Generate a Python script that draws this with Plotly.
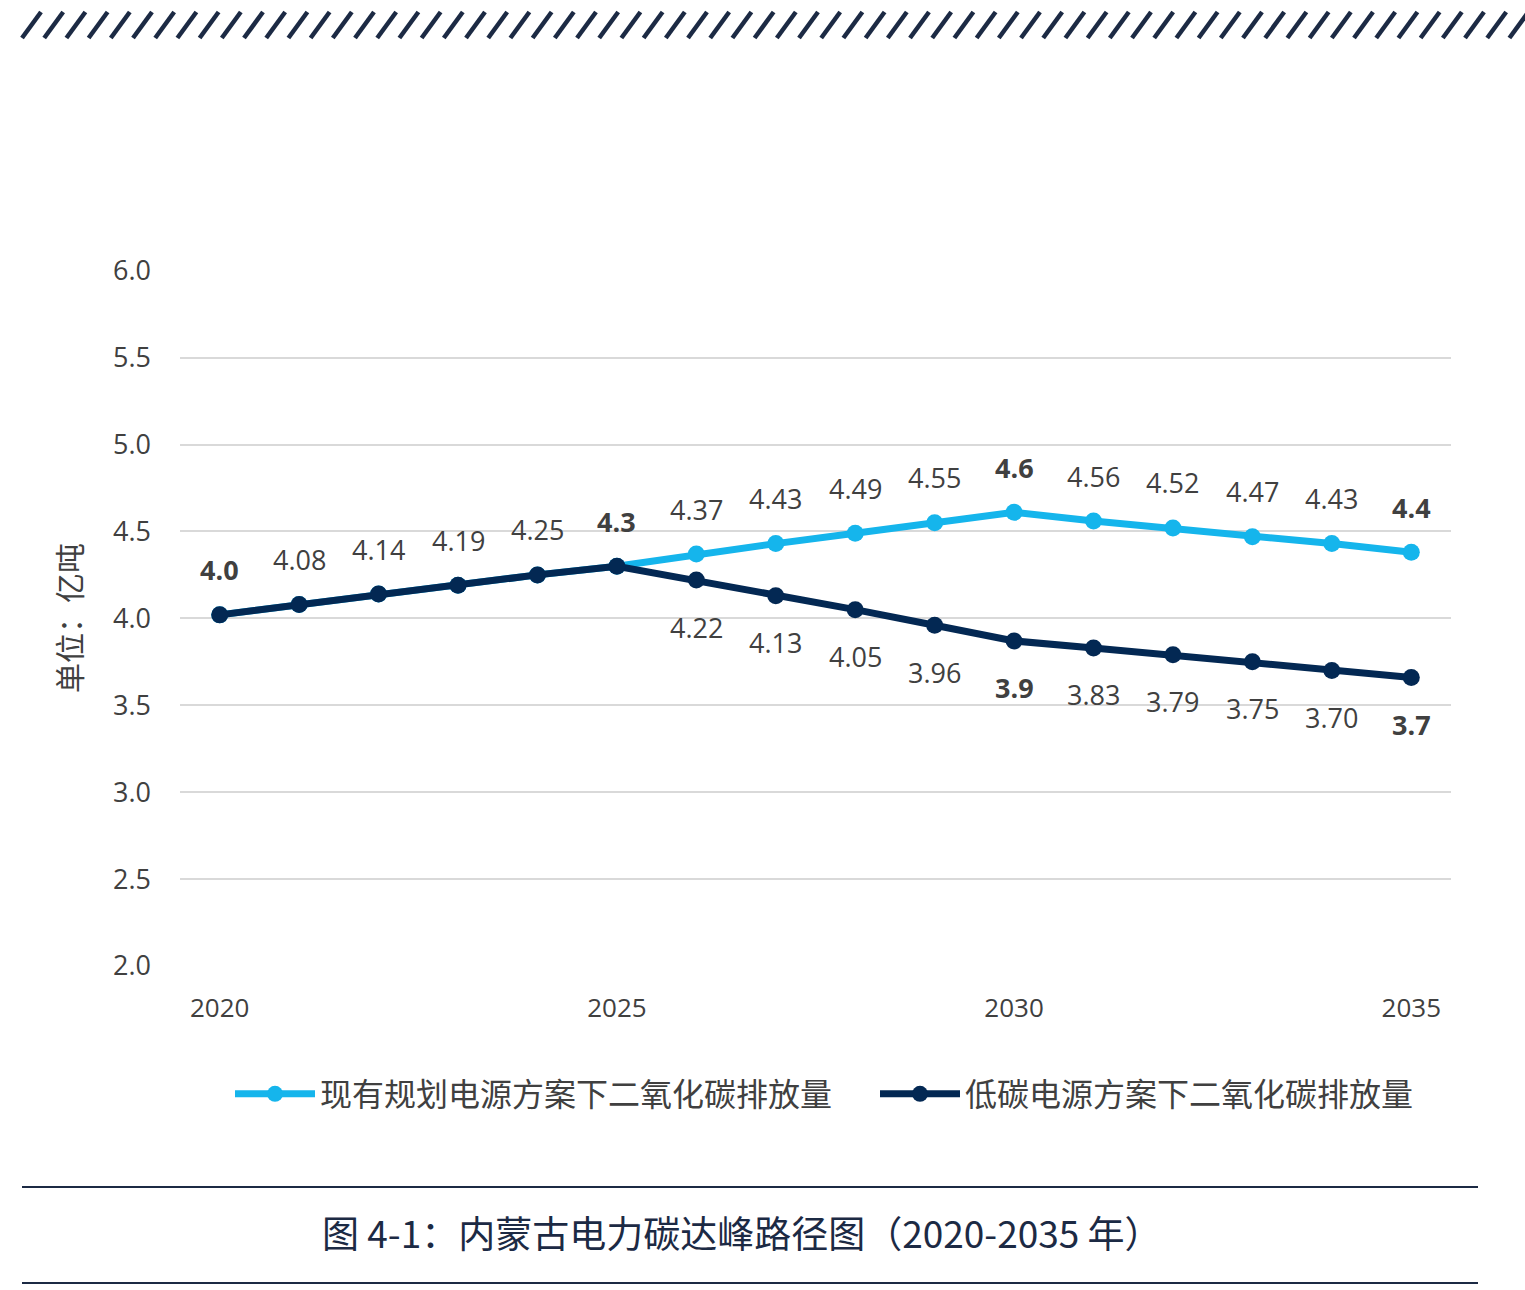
import plotly.graph_objects as go

years = list(range(2020, 2036))
plan_values = [4.02, 4.08, 4.14, 4.19, 4.25, 4.30, 4.37, 4.43, 4.49, 4.55, 4.61, 4.56, 4.52, 4.47, 4.43, 4.38]
low_values = [4.02, 4.08, 4.14, 4.19, 4.25, 4.30, 4.22, 4.13, 4.05, 3.96, 3.87, 3.83, 3.79, 3.75, 3.70, 3.66]
plan_labels = [None, None, None, None, None, None, "4.37", "4.43", "4.49", "4.55", "<b>4.6</b>", "4.56", "4.52", "4.47", "4.43", "<b>4.4</b>"]
low_labels = ["<b>4.0</b>", "4.08", "4.14", "4.19", "4.25", "<b>4.3</b>", "4.22", "4.13", "4.05", "3.96", "<b>3.9</b>", "3.83", "3.79", "3.75", "3.70", "<b>3.7</b>"]
y_ticks = [2.0, 2.5, 3.0, 3.5, 4.0, 4.5, 5.0, 5.5, 6.0]
x_ticks = [2020, 2025, 2030, 2035]
plan_name = "现有规划电源方案下二氧化碳排放量"
low_name = "低碳电源方案下二氧化碳排放量"
y_title = "单位：亿吨"
caption = "图 4-1：内蒙古电力碳达峰路径图（2020-2035 年）"

CYAN = "#15b5ec"
NAVY = "#032853"
TXT = "#404040"
DARK = "#1c2a44"
FONT = "Open Sans, Noto Sans CJK SC, sans-serif"
CJK = "Noto Sans CJK SC, sans-serif"

W, H = 1525, 1290
L, R, T, B = 180, 1451, 270, 966


def px(xp):
    return (xp - L) / (R - L)


def py(yp):
    return (B - yp) / (B - T)


fig = go.Figure()
fig.add_trace(go.Scatter(x=years, y=plan_values, mode="lines+markers", name=plan_name,
                         line=dict(color=CYAN, width=7), marker=dict(size=17, color=CYAN)))
fig.add_trace(go.Scatter(x=years, y=low_values, mode="lines+markers", name=low_name,
                         line=dict(color=NAVY, width=7), marker=dict(size=17, color=NAVY)))

ann = []
for i, yr in enumerate(years):
    if plan_labels[i]:
        ann.append(dict(x=yr, y=plan_values[i], text=plan_labels[i], showarrow=False, yshift=45,
                        font=dict(size=27, color=TXT, family=FONT)))
    below = i > 5
    ann.append(dict(x=yr, y=low_values[i], text=low_labels[i], showarrow=False,
                    yshift=-47 if below else 45, font=dict(size=27, color=TXT, family=FONT)))

ann.append(dict(xref="paper", yref="paper", x=px(68), y=py(618), xanchor="center", yanchor="middle",
                text=y_title, textangle=-90,
                showarrow=False, font=dict(size=30, color=TXT, family=CJK)))
ann.append(dict(xref="paper", yref="paper", x=px(742), y=py(1232), xanchor="center", yanchor="middle",
                text=caption, showarrow=False, font=dict(size=37, color=DARK, family=CJK)))

shapes = []
for yline in (1187, 1283):
    shapes.append(dict(type="line", xref="paper", yref="paper", x0=px(22), x1=px(1478),
                       y0=py(yline), y1=py(yline), line=dict(color=DARK, width=2)))
# hatched band at top
x0 = 22
while x0 < 1530:
    shapes.append(dict(type="line", xref="paper", yref="paper", x0=px(x0), y0=py(38),
                       x1=px(x0 + 19), y1=py(12), line=dict(color=DARK, width=4.5)))
    x0 += 22.2

fig.update_layout(
    width=W, height=H,
    margin=dict(l=L, r=W - R, t=T, b=H - B, autoexpand=False),
    paper_bgcolor="white", plot_bgcolor="white",
    font=dict(family=FONT, color=TXT),
    xaxis=dict(range=[2019.5, 2035.5], tickvals=x_ticks, showgrid=False, zeroline=False,
               showline=False, tickfont=dict(size=26, color=TXT), ticklabelstandoff=24),
    yaxis=dict(range=[2.0, 6.004], tickvals=y_ticks, tickformat=".1f", showgrid=True,
               gridcolor="#d9d9d9", gridwidth=2, zeroline=False, showline=False,
               tickfont=dict(size=27, color=TXT), ticklabelstandoff=28),
    legend=dict(orientation="h", x=px(1520), xanchor="right", y=py(1094), yanchor="middle",
                font=dict(size=32, color=TXT, family=CJK), itemwidth=80,
                entrywidth=550, entrywidthmode="pixels", tracegroupgap=0),
    annotations=ann, shapes=shapes,
)
fig.write_html("out.html")
